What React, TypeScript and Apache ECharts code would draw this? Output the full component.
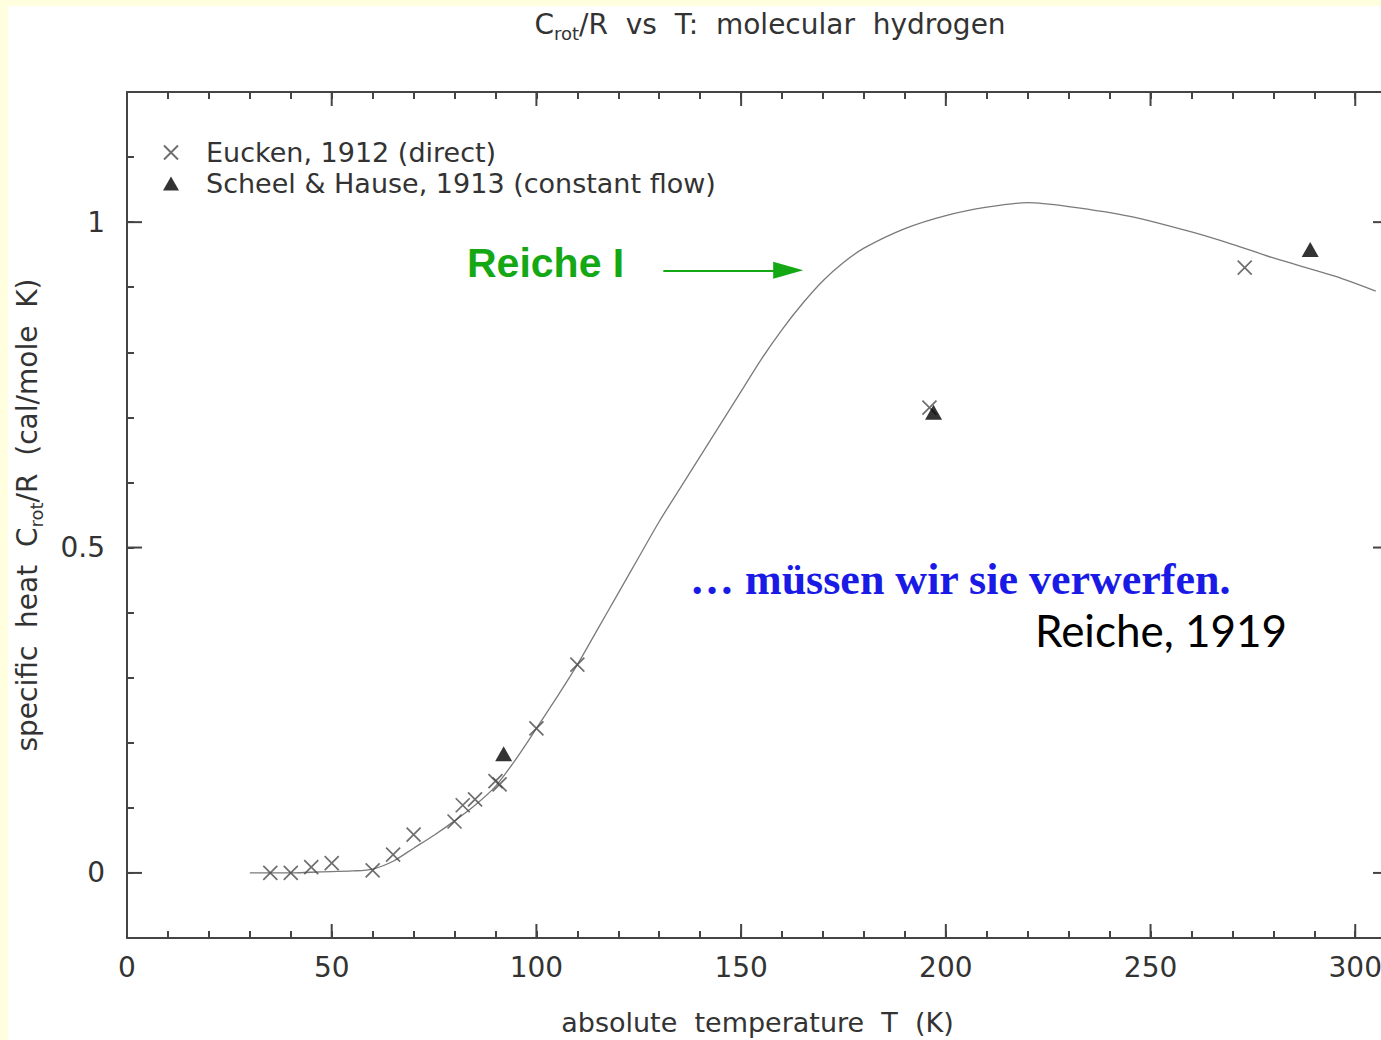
import React, { useEffect, useRef } from 'react';
import * as echarts from 'echarts';

// Eucken, 1912 (direct) — crosses
const euckenT = [35, 40, 45, 50, 60, 65, 70, 80, 82, 85, 90, 91, 100, 110, 196, 273];
const euckenC = [0.0, 0.0, 0.009, 0.015, 0.004, 0.028, 0.059, 0.079, 0.104, 0.113, 0.141, 0.136, 0.222, 0.32, 0.715, 0.93];

// Scheel & Hause, 1913 (constant flow) — triangles
const scheelT = [92, 197, 289];
const scheelC = [0.183, 0.708, 0.958];

// Reiche I theoretical curve
const reicheT = [30, 35, 40, 45, 50, 55, 60, 65, 70, 75, 80, 85, 90, 95, 100, 105, 110, 115, 120, 125, 130, 135, 140, 145, 150, 155, 160, 165, 170, 175, 180, 190, 200, 210, 220, 230, 245, 260, 270, 280, 295, 305];
const reicheC = [0, 0, 0, 0.001, 0.002, 0.003, 0.006, 0.018, 0.038, 0.058, 0.08, 0.104, 0.133, 0.175, 0.222, 0.27, 0.32, 0.375, 0.43, 0.485, 0.54, 0.59, 0.64, 0.69, 0.74, 0.79, 0.835, 0.875, 0.91, 0.938, 0.96, 0.99, 1.01, 1.023, 1.03, 1.024, 1.009, 0.985, 0.966, 0.945, 0.917, 0.894];

// axis ticks
const xMajorTicks = [0, 50, 100, 150, 200, 250, 300];
const yMajorTicks = [0, 0.5, 1];
const yTickLabels: Record<string, string> = { '0': '0', '0.5': '0.5', '1': '1' };

// annotation arrow (data coordinates)
const arrowFrom = [131, 0.926];
const arrowTo = [161.5, 0.926];

const FONT = 'DejaVu Sans';
const AXIS_COLOR = '#444';
const TXT = '#333';

export default function App() {
  const ref = useRef<HTMLDivElement>(null);

  useEffect(() => {
    if (!ref.current) return;
    const chart = echarts.init(ref.current, undefined, { renderer: 'svg' });
    const xMin = 0, xMax = 308, yMin = -0.1, yMax = 1.2;

    const tickData: number[][] = [
      ...xMajorTicks.map((v) => [v, 0, 0]),
      ...yMajorTicks.map((v) => [0, v, 1]),
    ];

    const yFmt = (v: number) => {
      const k = String(Math.round(v * 10) / 10);
      return yTickLabels[k] ?? '';
    };

    const option: any = {
      animation: false,
      backgroundColor: '#ffffff',
      title: {
        text: '{c|C}{s|rot}{c|/R  vs  T:  molecular  hydrogen}',
        left: 757,
        top: -1,
        textAlign: 'center',
        textStyle: {
          fontWeight: 'normal',
          rich: {
            c: { fontFamily: FONT, fontSize: 28, fontWeight: 'normal', color: TXT, lineHeight: 32, verticalAlign: 'top' },
            s: { fontFamily: FONT, fontSize: 18, fontWeight: 'normal', color: TXT, lineHeight: 8, verticalAlign: 'bottom' },
          },
        },
      },
      legend: {
        left: 150,
        top: 128,
        orient: 'vertical',
        itemGap: 4,
        itemWidth: 16,
        itemHeight: 14,
        data: ['Eucken, 1912 (direct)', 'Scheel & Hause, 1913 (constant flow)'],
        textStyle: { fontFamily: FONT, fontSize: 27, color: TXT, padding: [0, 0, 0, 22] },
      },
      grid: { left: 119, top: 86, width: 1261, height: 846, containLabel: false, outerBoundsMode: 'none' },
      xAxis: [
        {
          type: 'value', min: xMin, max: xMax, interval: 10, position: 'bottom',
          name: 'absolute  temperature  T  (K)', nameLocation: 'middle', nameGap: 71,
          nameTextStyle: { fontFamily: FONT, fontSize: 27, color: TXT },
          axisLine: { onZero: false, lineStyle: { color: AXIS_COLOR, width: 2 } },
          axisTick: { inside: true, length: 7, lineStyle: { color: AXIS_COLOR, width: 2 } },
          axisLabel: {
            margin: 15, fontFamily: FONT, fontSize: 28, color: TXT, showMaxLabel: false,
            formatter: (v: number) => (v % 50 === 0 ? String(v) : ''),
          },
          splitLine: { show: false },
        },
        {
          type: 'value', min: xMin, max: xMax, interval: 10, position: 'top',
          axisLine: { onZero: false, lineStyle: { color: AXIS_COLOR, width: 2 } },
          axisTick: { inside: true, length: 7, lineStyle: { color: AXIS_COLOR, width: 2 } },
          axisLabel: { show: false },
          splitLine: { show: false },
        },
      ],
      yAxis: [
        {
          type: 'value', min: yMin, max: yMax, interval: 0.1, position: 'left',
          name: '{c|specific  heat  C}{s|rot}{c|/R  (cal/mole  K)}',
          nameLocation: 'middle', nameGap: 82, nameRotate: 90,
          nameTextStyle: {
            rich: {
              c: { fontFamily: FONT, fontSize: 28, color: TXT, lineHeight: 32, verticalAlign: 'top' },
              s: { fontFamily: FONT, fontSize: 18, color: TXT, lineHeight: 8, verticalAlign: 'bottom' },
            },
          },
          axisLine: { onZero: false, lineStyle: { color: AXIS_COLOR, width: 2 } },
          axisTick: { inside: true, length: 7, lineStyle: { color: AXIS_COLOR, width: 2 } },
          axisLabel: { margin: 22, fontFamily: FONT, fontSize: 28, color: TXT, formatter: yFmt },
          splitLine: { show: false },
        },
        {
          type: 'value', min: yMin, max: yMax, interval: 0.1, position: 'right',
          axisLine: { onZero: false, lineStyle: { color: AXIS_COLOR, width: 2 } },
          axisTick: { inside: true, length: 7, lineStyle: { color: AXIS_COLOR, width: 2 } },
          axisLabel: { show: false },
          splitLine: { show: false },
        },
      ],
      series: [
        {
          name: 'Reiche I',
          type: 'line',
          xAxisIndex: 0, yAxisIndex: 0,
          data: reicheT.map((t, i) => [t, reicheC[i]]),
          smooth: 0.3,
          showSymbol: false,
          symbol: 'none',
          lineStyle: { color: '#7a7a7a', width: 1.3 },
          z: 2,
          markLine: {
            silent: true,
            symbol: ['none', 'triangle'],
            symbolSize: [17, 30],
            label: { show: false },
            lineStyle: { color: '#14a814', width: 2, type: 'solid' },
            data: [[{ coord: arrowFrom }, { coord: arrowTo }]],
          },
        },
        {
          name: 'Eucken, 1912 (direct)',
          type: 'scatter',
          xAxisIndex: 0, yAxisIndex: 0,
          data: euckenT.map((t, i) => [t, euckenC[i]]),
          symbol: 'path://M0,0L10,10M10,0L0,10',
          symbolSize: 14,
          itemStyle: { color: 'transparent', borderColor: '#4a4a4a', borderWidth: 1.7 },
          z: 3,
        },
        {
          name: 'Scheel & Hause, 1913 (constant flow)',
          type: 'scatter',
          xAxisIndex: 0, yAxisIndex: 0,
          data: scheelT.map((t, i) => [t, scheelC[i]]),
          symbol: 'triangle',
          symbolSize: [17, 15],
          itemStyle: { color: '#000' },
          z: 4,
        },
        {
          name: 'majorTicks',
          type: 'custom',
          xAxisIndex: 0, yAxisIndex: 0,
          clip: false,
          silent: true,
          data: tickData,
          z: 5,
          renderItem: (params: any, api: any) => {
            const kind = api.value(2);
            const v = kind === 0 ? api.value(0) : api.value(1);
            const st = { stroke: AXIS_COLOR, lineWidth: 2 };
            if (kind === 0) {
              const b = api.coord([v, yMin]);
              const t = api.coord([v, yMax]);
              return {
                type: 'group',
                children: [
                  { type: 'line', shape: { x1: b[0], y1: b[1], x2: b[0], y2: b[1] - 14 }, style: st },
                  { type: 'line', shape: { x1: t[0], y1: t[1], x2: t[0], y2: t[1] + 14 }, style: st },
                ],
              };
            }
            const l = api.coord([xMin, v]);
            const r = api.coord([xMax, v]);
            return {
              type: 'group',
              children: [
                { type: 'line', shape: { x1: l[0], y1: l[1], x2: l[0] + 15, y2: l[1] }, style: st },
                { type: 'line', shape: { x1: r[0], y1: r[1], x2: r[0] - 15, y2: r[1] }, style: st },
              ],
            };
          },
        },
      ],
      graphic: [
        {
          type: 'text', left: 459, top: 236,
          style: { text: 'Reiche I', font: 'bold 41px "Liberation Sans"', fill: '#14a814' },
        },
        {
          type: 'text', left: 682, top: 551,
          style: { text: '… müssen wir sie verwerfen.', font: 'bold 44px "Liberation Serif"', fill: '#1a1ae6' },
        },
        {
          type: 'text', left: 1027, top: 602,
          style: { text: 'Reiche, 1919', font: '44px Lato', fill: '#000' },
        },
      ],
    };

    chart.setOption(option);
    return () => chart.dispose();
  }, []);

  return (
    <div style={{ position: 'fixed', left: 0, top: 0, width: 1381, height: 1040, background: '#ffffe0', overflow: 'hidden' }}>
      <div ref={ref} style={{ position: 'absolute', left: 8, top: 6, width: 1420, height: 1034 }} />
    </div>
  );
}
